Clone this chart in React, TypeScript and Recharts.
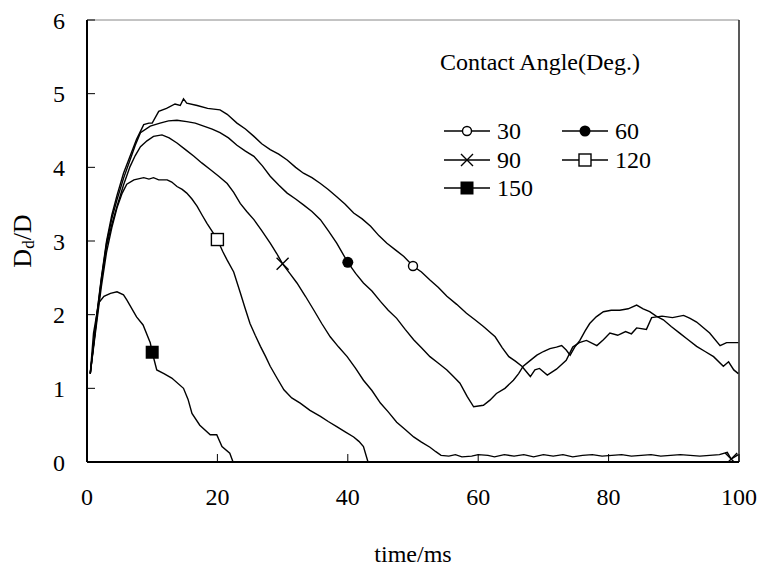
import React from "react";
import { LineChart, Line, XAxis, YAxis, ReferenceLine, Customized } from "recharts";

const FONT = '"Liberation Serif", "Times New Roman", serif';

const X_TICKS = [0, 20, 40, 60, 80, 100];
const Y_TICKS = [0, 1, 2, 3, 4, 5, 6];

// [time(ms), Dd/D]
const S30 = [
  [0.5, 1.2], [1.5, 2.0], [2.2, 2.5], [3, 3.0], [3.8, 3.35], [4.6, 3.62], [5.6, 3.92], [6.6, 4.15], [7.6, 4.38],
  [8.7, 4.58], [9.5, 4.6], [10, 4.6], [11, 4.76], [12.2, 4.8], [13.5, 4.86], [14.3, 4.84], [14.8, 4.93], [15.3, 4.87],
  [16.9, 4.84], [18.5, 4.8], [20.4, 4.78], [21.5, 4.72], [23, 4.6], [24.3, 4.52], [25.6, 4.42], [26.8, 4.32],
  [28.1, 4.24], [29.4, 4.18], [30.7, 4.1], [32, 4.0], [33.2, 3.92], [34.5, 3.86], [35.8, 3.78], [37, 3.7],
  [38.3, 3.6], [39.6, 3.5], [40.9, 3.38], [42.2, 3.3], [43.5, 3.2], [44.8, 3.07], [46, 2.97], [47.3, 2.88],
  [48.6, 2.79], [50, 2.66], [51.3, 2.58], [52.6, 2.47], [53.9, 2.37], [55.2, 2.25], [56.7, 2.14], [58.2, 2.02],
  [59.5, 1.93], [60.8, 1.84], [62.6, 1.7], [63.7, 1.55], [64.7, 1.43], [65.7, 1.37], [66.7, 1.3], [68, 1.16],
  [68.7, 1.25], [69.4, 1.27], [70.6, 1.18], [72, 1.26], [73.5, 1.38], [74.5, 1.56], [75.5, 1.62], [76.6, 1.65],
  [78.2, 1.58], [79.2, 1.66], [80.2, 1.75], [81.4, 1.72], [82.6, 1.77], [83.5, 1.74], [84.3, 1.82], [85.8, 1.8],
  [86.6, 1.96], [88.2, 1.98], [89.8, 1.96], [91.5, 1.99], [92.5, 1.95], [93.5, 1.9], [95.5, 1.75], [97.1, 1.58],
  [98.1, 1.62], [99.9, 1.62],
];
const S60 = [
  [0.5, 1.2], [1.5, 1.98], [2.2, 2.48], [3, 2.97], [3.8, 3.3], [4.6, 3.56], [5.6, 3.85], [6.6, 4.1], [7.4, 4.3],
  [8.2, 4.47], [9.7, 4.56], [11.2, 4.6], [12.5, 4.63], [13.8, 4.64], [15.3, 4.62], [16.6, 4.6], [17.9, 4.56],
  [19.2, 4.52], [20.4, 4.47], [21.7, 4.4], [23, 4.3], [24.3, 4.22], [25.6, 4.15], [26.9, 4.02], [28.1, 3.88],
  [29.4, 3.76], [30.7, 3.65], [32, 3.57], [33.2, 3.49], [34.5, 3.4], [35.8, 3.29], [37, 3.14], [38.3, 2.97],
  [40, 2.71], [41.2, 2.56], [42.4, 2.43], [43.7, 2.32], [45, 2.18], [46.2, 2.06], [47.5, 1.95], [48.8, 1.8],
  [50.1, 1.66], [51.3, 1.55], [52.6, 1.43], [53.9, 1.34], [55.2, 1.25], [56.2, 1.16], [57.2, 1.07], [58.3, 0.89],
  [59.3, 0.75], [60.8, 0.77], [61.8, 0.84], [62.8, 0.93], [64.1, 1.0], [65.4, 1.11], [66.2, 1.2], [66.9, 1.3],
  [68, 1.38], [69, 1.45], [70, 1.5], [71, 1.54], [72, 1.56], [72.8, 1.58], [73.5, 1.52], [74.1, 1.45],
  [74.8, 1.56], [75.6, 1.65], [76.4, 1.78], [77.1, 1.88], [78.1, 1.97], [79.2, 2.04], [80.4, 2.06], [81.7, 2.06],
  [83, 2.08], [84.3, 2.13], [85.3, 2.08], [86.3, 2.04], [87.3, 1.98], [88.4, 1.93], [89.6, 1.84], [90.9, 1.75],
  [92.2, 1.66], [93.5, 1.57], [94.8, 1.5], [96.1, 1.43], [97.6, 1.3], [98.4, 1.36], [99.2, 1.25], [99.9, 1.2],
];
const S90 = [
  [0.5, 1.2], [1.5, 1.95], [2.2, 2.45], [3, 2.93], [3.8, 3.22], [4.6, 3.47], [5.6, 3.76], [6.6, 4.01], [7.4, 4.16],
  [8.2, 4.28], [9.2, 4.36], [10.2, 4.42], [11.5, 4.44], [12.6, 4.4], [13.8, 4.33], [15.1, 4.24], [16.4, 4.15],
  [17.6, 4.06], [18.9, 3.97], [20.2, 3.88], [21.5, 3.78], [22.5, 3.66], [23.5, 3.51], [24.5, 3.4], [25.6, 3.29],
  [26.8, 3.14], [28.1, 2.97], [29.1, 2.83], [30, 2.69], [31.1, 2.56], [32.2, 2.43], [33.5, 2.25], [34.8, 2.06],
  [36, 1.88], [37.3, 1.7], [38.6, 1.56], [39.9, 1.43], [41.2, 1.27], [42.4, 1.11], [43.7, 0.97], [45, 0.8],
  [46.2, 0.68], [47.5, 0.54], [48.8, 0.44], [50.1, 0.34], [51.3, 0.27], [52.6, 0.2], [53.5, 0.14], [54.3, 0.09],
  [55.5, 0.08], [56.5, 0.1], [57.5, 0.07], [59, 0.08], [60, 0.1], [61.5, 0.09], [62.5, 0.07], [64, 0.1],
  [65.5, 0.08], [67, 0.1], [68.5, 0.07], [70, 0.1], [71.5, 0.08], [73, 0.1], [74.5, 0.07], [76, 0.09],
  [77.5, 0.1], [79, 0.08], [80.5, 0.09], [82, 0.1], [83.5, 0.08], [85, 0.09], [86.5, 0.1], [88, 0.08],
  [89.5, 0.09], [91, 0.1], [92.5, 0.09], [94, 0.08], [95.5, 0.09], [97, 0.1], [98.2, 0.13], [98.8, 0.04],
  [99.9, 0.1],
];
const S120 = [
  [0.5, 1.2], [1.5, 1.9], [2.2, 2.38], [3, 2.85], [3.8, 3.18], [4.6, 3.45], [5.4, 3.65], [6.1, 3.77], [7.2, 3.83],
  [8.7, 3.86], [9.5, 3.84], [10.2, 3.86], [11, 3.83], [12.3, 3.83], [13, 3.8], [13.8, 3.74], [14.6, 3.7],
  [15.3, 3.65], [16.1, 3.57], [16.9, 3.47], [17.6, 3.36], [18.4, 3.24], [19.2, 3.13], [20, 3.02], [20.8, 2.86],
  [21.5, 2.74], [22.5, 2.58], [23.5, 2.3], [24.2, 2.1], [25, 1.88], [25.8, 1.72], [26.6, 1.57], [27.4, 1.43],
  [28.1, 1.3], [29.2, 1.13], [30.2, 0.98], [31.4, 0.87], [32.7, 0.8], [34.2, 0.7], [35.8, 0.62], [37, 0.55],
  [38.3, 0.48], [39.6, 0.41], [40.9, 0.34], [41.7, 0.28], [42.4, 0.21], [43.1, 0],
];
const S150 = [
  [0.5, 1.2], [1, 1.75], [1.8, 2.16], [2.6, 2.25], [3.6, 2.29], [4.6, 2.31], [5.6, 2.27], [6.1, 2.2], [7.6, 1.97],
  [8.6, 1.86], [9.7, 1.62], [10, 1.49], [10.7, 1.25], [11.8, 1.2], [13, 1.14], [14.8, 1.0], [15.5, 0.85],
  [16.1, 0.66], [17.3, 0.5], [18.9, 0.37], [19.9, 0.37], [20.7, 0.21], [21.9, 0.12], [22.4, 0],
];

// where each curve carries its marker
const M30 = [50];
const M60 = [40];
const M90 = [30, 98.8];
const M120 = [20];
const M150 = [10];

const toRows = (pts: number[][]) => pts.map(([t, v]) => ({ t, v }));

const SERIES = [
  { name: "30", kind: "circleOpen", data: toRows(S30), marks: M30 },
  { name: "60", kind: "circleFill", data: toRows(S60), marks: M60 },
  { name: "90", kind: "cross", data: toRows(S90), marks: M90 },
  { name: "120", kind: "squareOpen", data: toRows(S120), marks: M120 },
  { name: "150", kind: "squareFill", data: toRows(S150), marks: M150 },
];

function Marker({ kind, x, y }: { kind: string; x: number; y: number }) {
  if (kind === "circleOpen") return <circle cx={x} cy={y} r={4.5} fill="#fff" stroke="#000" strokeWidth={1.4} />;
  if (kind === "circleFill") return <circle cx={x} cy={y} r={5.5} fill="#000" />;
  if (kind === "cross")
    return <path d={`M${x - 6},${y - 6}L${x + 6},${y + 6}M${x + 6},${y - 6}L${x - 6},${y + 6}`} stroke="#000" strokeWidth={1.4} />;
  if (kind === "squareOpen")
    return <rect x={x - 6} y={y - 6} width={12} height={12} fill="#fff" stroke="#000" strokeWidth={1.4} />;
  return <rect x={x - 6.5} y={y - 6.5} width={13} height={13} fill="#000" />;
}

const makeDot = (kind: string, marks: number[]) => (props: any) => {
  const { cx, cy, payload, index } = props;
  if (!marks.includes(payload.t)) return <g key={`n-${kind}-${index}`} />;
  return <Marker key={`m-${kind}-${index}`} kind={kind} x={cx} y={cy} />;
};

function AngleLegend() {
  const cols = [444, 562];
  const rows = [131, 160, 188];
  return (
    <g fontFamily={FONT} fontSize={24} fill="#000">
      <text x={440} y={70}>Contact Angle(Deg.)</text>
      {SERIES.map((s, i) => {
        const x0 = cols[i % 2];
        const y0 = rows[Math.floor(i / 2)];
        return (
          <g key={s.name}>
            <line x1={x0} x2={x0 + 46} y1={y0} y2={y0} stroke="#000" strokeWidth={1.4} />
            <Marker kind={s.kind} x={x0 + 23} y={y0} />
            <text x={x0 + 53} y={y0 + 8}>{s.name}</text>
          </g>
        );
      })}
    </g>
  );
}

function AxisTitles() {
  return (
    <g fontFamily={FONT} fill="#000">
      <text x={413} y={562} fontSize={24} textAnchor="middle">time/ms</text>
      <text x={31} y={241} fontSize={26} textAnchor="middle" transform="rotate(-90 31 241)">
        D<tspan fontSize={17} dy={3}>d</tspan><tspan dy={-3}>/D</tspan>
      </text>
    </g>
  );
}

export default function App() {
  const tickStyle = { fill: "#000", fontSize: 24, fontFamily: FONT };
  return (
    <div style={{ position: "absolute", left: 0, top: 0, background: "#fff" }}>
      <LineChart width={761} height={567} margin={{ top: 20, right: 22, left: 27, bottom: 65 }}>
        <XAxis
          type="number"
          dataKey="t"
          domain={[0, 100]}
          ticks={X_TICKS}
          allowDataOverflow
          height={40}
          tickSize={-8}
          tickMargin={34}
          axisLine={{ stroke: "#000", strokeWidth: 2 }}
          tickLine={{ stroke: "#000" }}
          tick={tickStyle}
        />
        <YAxis
          type="number"
          domain={[0, 6]}
          ticks={Y_TICKS}
          allowDataOverflow
          width={60}
          tickSize={-8}
          tickMargin={30}
          axisLine={{ stroke: "#000", strokeWidth: 2 }}
          tickLine={{ stroke: "#000" }}
          tick={tickStyle}
        />
        <ReferenceLine y={6} stroke="#888" />
        <ReferenceLine x={100} stroke="#222" strokeWidth={1.5} />
        {SERIES.map((s) => (
          <Line
            key={s.name}
            data={s.data}
            dataKey="v"
            type="linear"
            stroke="#000"
            strokeWidth={1.4}
            dot={makeDot(s.kind, s.marks)}
            activeDot={false}
            isAnimationActive={false}
          />
        ))}
        <Customized component={AngleLegend} />
        <Customized component={AxisTitles} />
      </LineChart>
    </div>
  );
}
